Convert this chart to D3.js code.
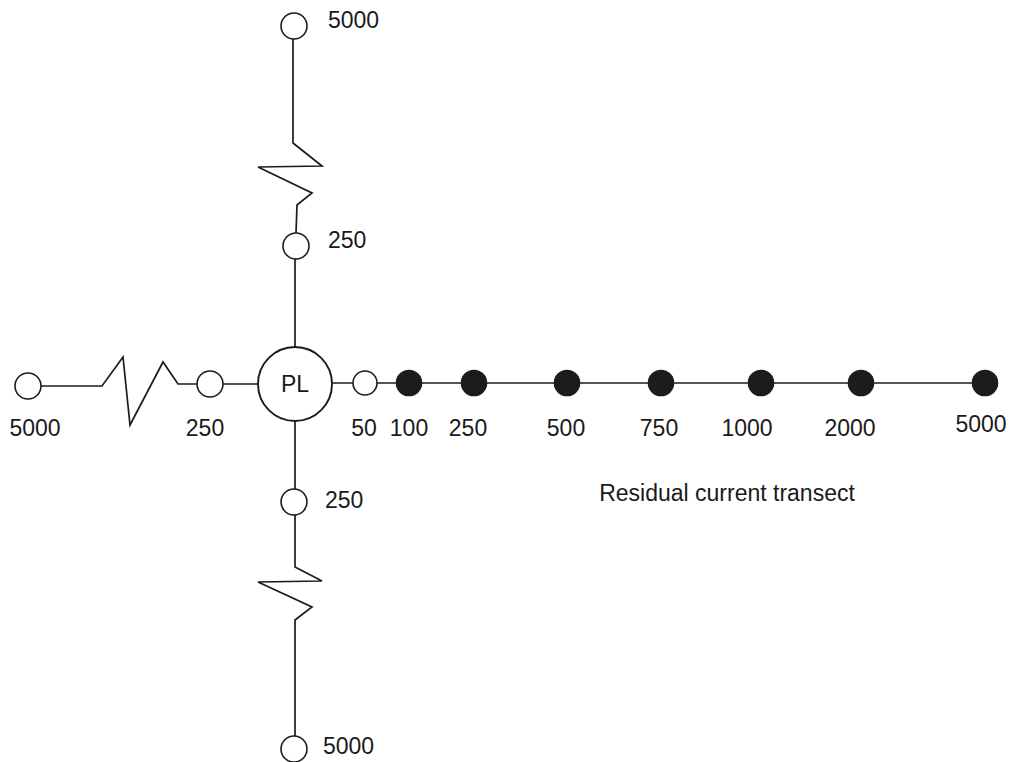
<!DOCTYPE html>
<html>
<head>
<meta charset="utf-8">
<script src="https://cdn.jsdelivr.net/npm/d3@7"></script>
<style>
  html, body { margin: 0; padding: 0; background: #fff; }
  svg { display: block; }
  text { font-family: "Liberation Sans", Arial, Helvetica, sans-serif; fill: #1a1a1a; }
</style>
</head>
<body>
<svg id="chart" width="1013" height="762"></svg>
<script>
// ---------------- data ----------------
const centerLabel = "PL";
const transectLabel = "Residual current transect";
// Residual current transect (east), distance from platform in metres
const rightStations = ["50", "100", "250", "500", "750", "1000", "2000", "5000"];
const rightFilled   = [false, true, true, true, true, true, true, true];
// Other arms: stations either side of the break symbol
const upStations    = ["250", "5000"];
const downStations  = ["250", "5000"];
const leftStations  = ["250", "5000"];

// ---------------- layout ----------------
const W = 1013, H = 762;
const svg = d3.select("#chart");
svg.append("rect").attr("width", W).attr("height", H).attr("fill", "#fff");

const ink = "#1c1c1c";
const cx = 295, cy = 384, rPL = 37;
const rSmall = 13, rDot = 12.5;
const fs = 23;

// schematic (non-proportional) position scales
const xRight = d3.scaleOrdinal().domain(rightStations)
  .range([365, 409, 474, 567, 661, 761, 861, 985]);
const xRightLabel = d3.scaleOrdinal().domain(rightStations)
  .range([364, 409, 468, 566, 659, 747, 850, 981]);
const xLeft = d3.scaleOrdinal().domain(leftStations).range([210, 28]);
const xLeftLabel = d3.scaleOrdinal().domain(leftStations).range([205, 35]);
const yUp = d3.scaleOrdinal().domain(upStations).range([246, 26]);
const yUpLabel = d3.scaleOrdinal().domain(upStations).range([248, 28]);
const yDown = d3.scaleOrdinal().domain(downStations).range([502, 749]);
const yDownLabel = d3.scaleOrdinal().domain(downStations).range([508, 754]);

const g = svg.append("g");
const line = d3.line();

function seg(pts) {
  g.append("path").attr("d", line(pts)).attr("fill", "none")
    .attr("stroke", ink).attr("stroke-width", 1.7).attr("stroke-linejoin", "miter");
}

// ---- right transect line ----
seg([[cx + rPL, cy - 1], [xRight("5000"), cy - 1]]);

// ---- up arm ----
seg([[cx, cy - rPL], [cx, yUp("250") + rSmall]]);
seg([[cx + 1, yUp("250") - rSmall], [cx + 2, 205], [cx + 17, 193], [cx - 37, 167],
     [cx + 27, 166], [cx - 2, 143], [cx - 2, yUp("5000") + rSmall]]);

// ---- down arm ----
seg([[cx, cy + rPL], [cx, yDown("250") - rSmall]]);
seg([[cx, yDown("250") + rSmall], [cx, 567], [cx + 27, 581], [cx - 37, 582],
     [cx + 17, 607], [cx, 620], [cx, yDown("5000") - rSmall]]);

// ---- left arm ----
seg([[cx - rPL, cy], [xLeft("250") + rSmall, cy]]);
seg([[xLeft("250") - rSmall, cy], [178, cy], [163, 362], [130, 425], [123, 357], [102, 386], [xLeft("5000") + rSmall, 386]]);

// ---- center platform ----
g.append("circle").attr("cx", cx).attr("cy", cy).attr("r", rPL)
  .attr("fill", "#fff").attr("stroke", ink).attr("stroke-width", 1.9);
g.append("text").attr("x", cx).attr("y", cy + 8).attr("text-anchor", "middle")
  .attr("font-size", 23).text(centerLabel);

// ---- right stations ----
const rightData = rightStations.map((s, i) => ({ s, filled: rightFilled[i] }));
g.selectAll("circle.rs").data(rightData).join("circle").attr("class", "rs")
  .attr("cx", d => xRight(d.s)).attr("cy", cy - 1)
  .attr("r", d => d.filled ? rDot : 12)
  .attr("fill", d => d.filled ? ink : "#fff")
  .attr("stroke", ink).attr("stroke-width", 1.6);
g.selectAll("text.rl").data(rightData).join("text").attr("class", "rl")
  .attr("x", d => xRightLabel(d.s))
  .attr("y", d => d.s === "5000" ? 432 : 436)
  .attr("text-anchor", "middle").attr("font-size", fs).text(d => d.s);

// ---- left stations ----
g.selectAll("circle.ls").data(leftStations).join("circle").attr("class", "ls")
  .attr("cx", d => xLeft(d)).attr("cy", d => d === "5000" ? 386 : cy)
  .attr("r", rSmall).attr("fill", "#fff").attr("stroke", ink).attr("stroke-width", 1.6);
g.selectAll("text.ll").data(leftStations).join("text").attr("class", "ll")
  .attr("x", d => xLeftLabel(d)).attr("y", 436)
  .attr("text-anchor", "middle").attr("font-size", fs).text(d => d);

// ---- up / down stations ----
function vStations(list, yScale, yLabel, cls, lx) {
  g.selectAll("circle." + cls).data(list).join("circle").attr("class", cls)
    .attr("cx", d => cx + (d === "250" && cls === "us" ? 1 : -1)).attr("cy", d => yScale(d))
    .attr("r", rSmall).attr("fill", "#fff").attr("stroke", ink).attr("stroke-width", 1.6);
  g.selectAll("text." + cls + "l").data(list).join("text").attr("class", cls + "l")
    .attr("x", d => lx(d)).attr("y", d => yLabel(d))
    .attr("font-size", fs).text(d => d);
}
vStations(upStations, yUp, yUpLabel, "us", d => 328);
vStations(downStations, yDown, yDownLabel, "ds", d => d === "5000" ? 323 : 325);

// ---- transect caption ----
g.append("text").attr("x", 727).attr("y", 501).attr("text-anchor", "middle")
  .attr("font-size", 23).text(transectLabel);
</script>
</body>
</html>
